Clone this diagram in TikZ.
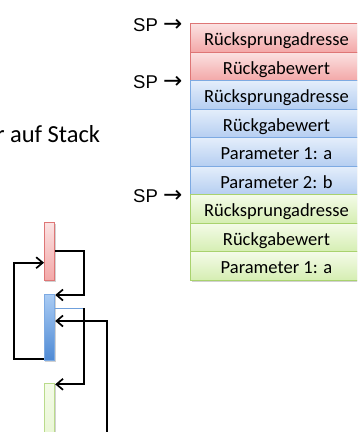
\documentclass[tikz,border=0pt]{standalone}
\usepackage{fontspec}
\setmainfont{Carlito}
\newfontfamily\arialfont{Liberation Sans}
\newfontfamily\arrowfont{DejaVu Sans}
\usetikzlibrary{arrows.meta,calc}
\definecolor{redTop}{HTML}{FBE2E2}
\definecolor{redBot}{HTML}{F3A7A7}
\definecolor{redLine}{HTML}{DE7676}
\definecolor{bluTop}{HTML}{E4EEFB}
\definecolor{bluBot}{HTML}{B5CEF1}
\definecolor{bluLine}{HTML}{7DAAE2}
\definecolor{grnTop}{HTML}{F4FBE8}
\definecolor{grnBot}{HTML}{D5EEB2}
\definecolor{grnLine}{HTML}{A9D26E}
\definecolor{barBluTop}{HTML}{A9CBF4}
\definecolor{barBluBot}{HTML}{4E8AD4}
\definecolor{connBlue}{HTML}{6FA0DC}
\tikzset{
  row/.style={draw, line width=0.9pt, minimum width=172pt, minimum height=28.5pt,
    inner sep=0pt, anchor=north west, text height=15pt, text depth=0pt,
    font=\fontsize{18.5pt}{20pt}\selectfont},
  redrow/.style={row, top color=redTop, bottom color=redBot, draw=redLine},
  blurow/.style={row, top color=bluTop, bottom color=bluBot, draw=bluLine},
  grnrow/.style={row, top color=grnTop, bottom color=grnBot, draw=grnLine},
  sp/.style={anchor=base west, inner sep=0pt, font=\arialfont\fontsize{18.5pt}{20pt}\selectfont},
  bar/.style={draw, line width=0.9pt, minimum width=10.3pt, inner sep=0pt, anchor=north west},
  conn/.style={line width=1.7pt, black},
  tip/.style={-{Straight Barb[length=6.5pt,width=11pt,line width=1.7pt]}},
  shadowbox/.style={fill=black, opacity=0.18},
}
\begin{document}
\begin{tikzpicture}[x=1pt,y=-1pt]
\useasboundingbox (0,0) rectangle (357,432);
\clip (0,0) rectangle (357,432);
% table shadow
\fill[shadowbox] (191.5,25) rectangle (364,281.6);
% stack rows
\node[redrow] (r1) at (190,23.3) {Rücksprungadresse};
\node[redrow] (r2) at (190,51.8) {Rückgabewert};
\node[blurow] (b1) at (190,80.3) {Rücksprungadresse};
\node[blurow] (b2) at (190,108.8) {Rückgabewert};
\node[blurow] (b3) at (190,137.3) {Parameter 1: a};
\node[blurow] (b4) at (190,165.8) {Parameter 2: b};
\node[grnrow] (g1) at (190,194.3) {Rücksprungadresse};
\node[grnrow] (g2) at (190,222.8) {Rückgabewert};
\node[grnrow] (g3) at (190,251.3) {Parameter 1: a};
% SP labels
\node[sp] (sp1) at (133,31) {SP {\arrowfont\fontsize{23pt}{24pt}\selectfont →}};
\node[sp] (sp2) at (133,88.2) {SP {\arrowfont\fontsize{23pt}{24pt}\selectfont →}};
\node[sp] (sp3) at (133,202.2) {SP {\arrowfont\fontsize{23pt}{24pt}\selectfont →}};
% clipped heading text
\node[anchor=base west, inner sep=0pt, font=\fontsize{24.5pt}{26pt}\selectfont] (head) at (-4.2,142.7) {r auf Stack};
% bars with shadows
\fill[shadowbox] (45.3,223.6) rectangle (55.8,281.5);
\fill[shadowbox] (45.3,295.6) rectangle (55.8,361.5);
\fill[shadowbox] (45.3,384) rectangle (55.8,440);
\node[bar, minimum height=57.7pt, top color=redTop, bottom color=redBot, draw=redLine] (rb) at (44,222.3) {};
\node[bar, minimum height=65.7pt, top color=barBluTop, bottom color=barBluBot, draw=bluLine] (bb) at (44,294.3) {};
\node[bar, minimum height=60pt, top color=grnTop, bottom color=grnTop!60!grnBot, draw=grnLine!80] (gb) at (44,382.7) {};
% connectors
\coordinate (c1) at (84,251);
\coordinate (c2) at (14,359.3);
\coordinate (c3) at (84,308.3);
\coordinate (c4) at (107.3,440);
\draw[conn, tip] (rb.east |- c1) -- (c1) |- (bb.east |- 0,295);
\draw[conn, tip] (bb.west |- c2) -- (c2) |- (rb.west |- 0,262.7);
\draw[line width=1.3pt, connBlue] (bb.east |- c3) -- (c3);
\draw[conn, tip] (c3) |- (gb.east |- 0,384.3);
\draw[conn, tip] (c4) |- (bb.east |- 0,321);
\end{tikzpicture}
\end{document}
